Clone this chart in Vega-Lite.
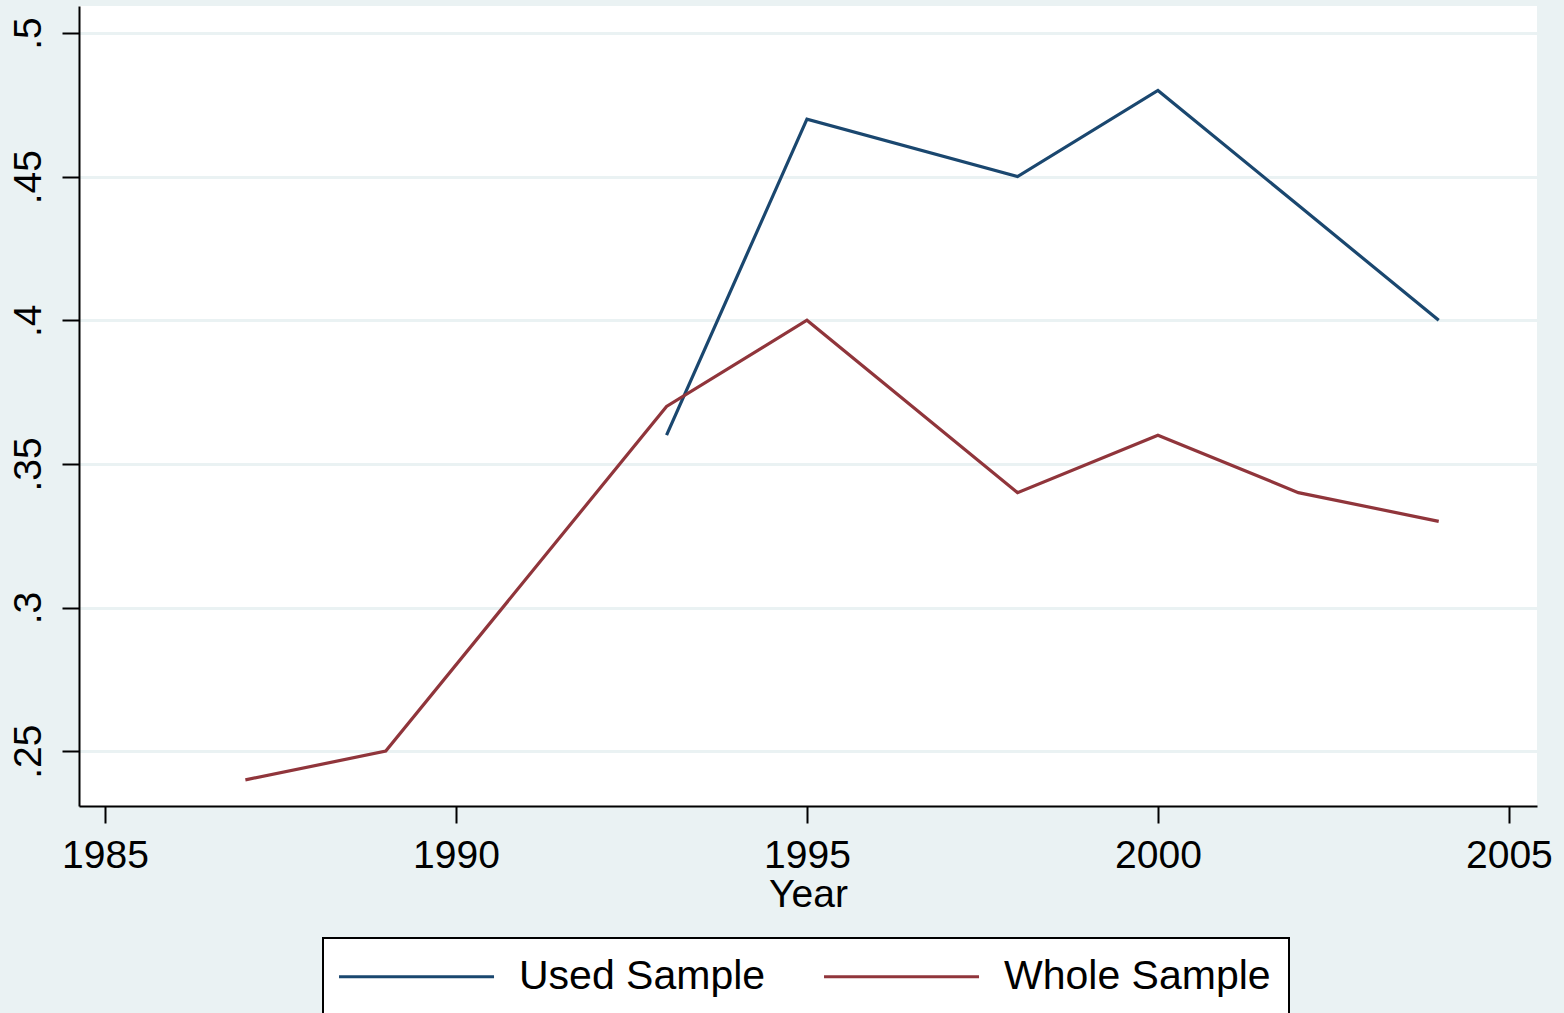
{
  "$schema": "https://vega.github.io/schema/vega-lite/v6.json",
  "width": 1458,
  "height": 800,
  "autosize": {"type": "none"},
  "padding": {"left": 79, "top": 6, "right": 27, "bottom": 207},
  "background": "#EAF2F3",
  "config": {
    "view": {"fill": "white", "stroke": null},
    "font": "Liberation Sans"
  },
  "data": {
    "values": [
      {"year": 1993, "value": 0.36, "series": "Used Sample"},
      {"year": 1995, "value": 0.47, "series": "Used Sample"},
      {"year": 1998, "value": 0.45, "series": "Used Sample"},
      {"year": 2000, "value": 0.48, "series": "Used Sample"},
      {"year": 2002, "value": 0.44, "series": "Used Sample"},
      {"year": 2004, "value": 0.40, "series": "Used Sample"},
      {"year": 1987, "value": 0.24, "series": "Whole Sample"},
      {"year": 1989, "value": 0.25, "series": "Whole Sample"},
      {"year": 1993, "value": 0.37, "series": "Whole Sample"},
      {"year": 1995, "value": 0.40, "series": "Whole Sample"},
      {"year": 1998, "value": 0.34, "series": "Whole Sample"},
      {"year": 2000, "value": 0.36, "series": "Whole Sample"},
      {"year": 2002, "value": 0.34, "series": "Whole Sample"},
      {"year": 2004, "value": 0.33, "series": "Whole Sample"}
    ]
  },
  "mark": {"type": "line", "strokeWidth": 3.2, "clip": true},
  "encoding": {
    "x": {
      "field": "year",
      "type": "quantitative",
      "title": "Year",
      "scale": {"domain": [1984.63, 2005.4], "nice": false, "zero": false},
      "axis": {
        "values": [1985, 1990, 1995, 2000, 2005],
        "format": "d",
        "grid": false,
        "tickSize": 17,
        "tickWidth": 2,
        "tickColor": "black",
        "domainColor": "black",
        "domainWidth": 2,
        "labelFontSize": 39,
        "labelColor": "black",
        "labelPadding": 13,
        "labelFlush": false,
        "labelOverlap": false,
        "titleFontSize": 39,
        "titleFontWeight": "normal",
        "titleColor": "black",
        "titlePadding": 0
      }
    },
    "y": {
      "field": "value",
      "type": "quantitative",
      "title": null,
      "scale": {"domain": [0.2309, 0.5094], "nice": false, "zero": false},
      "axis": {
        "values": [0.25, 0.3, 0.35, 0.4, 0.45, 0.5],
        "labelExpr": "replace(format(datum.value, '.2~f'), '0.', '.')",
        "grid": true,
        "gridColor": "#EAF2F3",
        "gridWidth": 3,
        "tickSize": 17,
        "tickWidth": 2,
        "tickColor": "black",
        "domainColor": "black",
        "domainWidth": 2,
        "labelFontSize": 39,
        "labelColor": "black",
        "labelAngle": -90,
        "labelAlign": "center",
        "labelBaseline": "bottom",
        "labelPadding": 14,
        "labelFlush": false,
        "labelOverlap": false
      }
    },
    "color": {
      "field": "series",
      "type": "nominal",
      "scale": {"domain": ["Used Sample", "Whole Sample"], "range": ["#1a476f", "#90353b"]},
      "legend": {
        "title": null,
        "orient": "none",
        "legendX": 244,
        "legendY": 932,
        "direction": "horizontal",
        "symbolType": "M-1.45,0H8.55",
        "symbolSize": 961,
        "symbolStrokeWidth": 3.2,
        "labelFontSize": 41,
        "labelColor": "black",
        "labelOffset": 137,
        "labelLimit": 0,
        "columnPadding": 51,
        "padding": 18,
        "fillColor": "white",
        "strokeColor": "black",
        "encode": {"legend": {"update": {"strokeWidth": {"value": 2}}}}
      }
    }
  }
}
